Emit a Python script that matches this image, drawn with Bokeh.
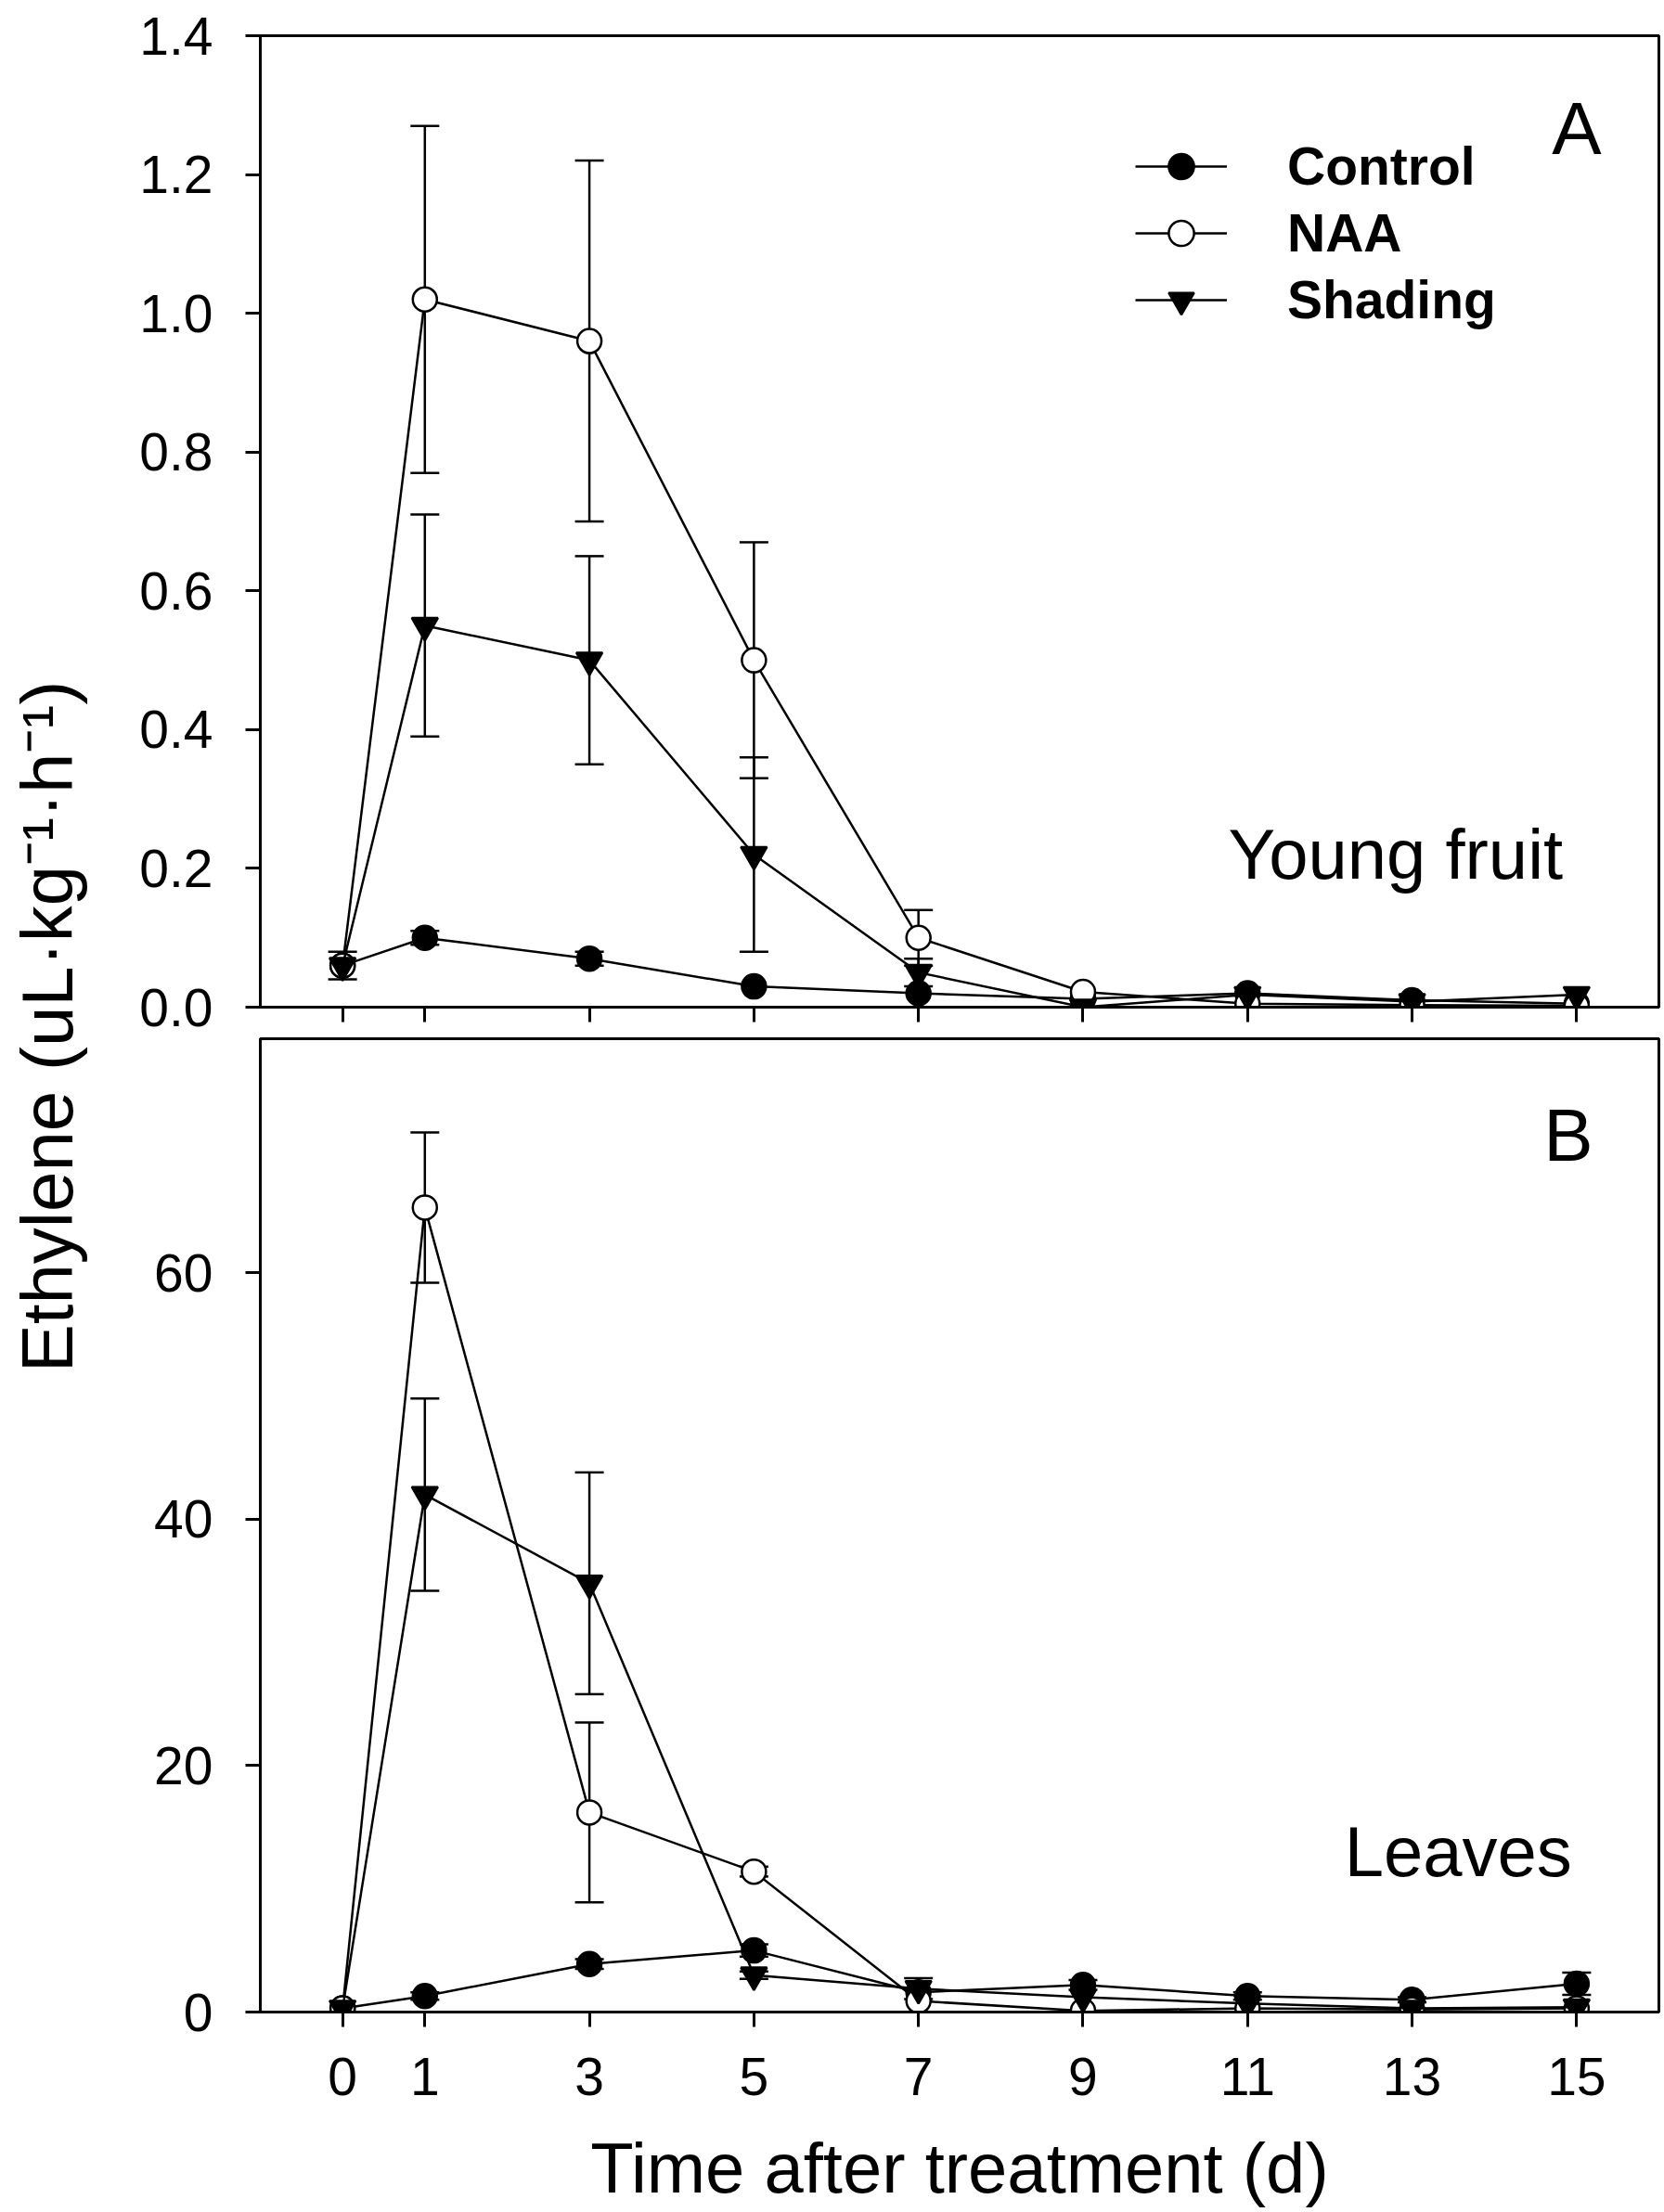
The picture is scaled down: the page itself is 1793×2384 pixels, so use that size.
from math import pi
from bokeh.plotting import figure
from bokeh.models import (Range1d, FixedTicker, ColumnDataSource, Whisker, TeeHead,
                          Label, Legend, LegendItem, CustomJSTickFormatter, PrintfTickFormatter)
from bokeh.layouts import row, column
from bokeh.embed import file_html
from bokeh.resources import INLINE

# ---------------- data ----------------
days = [0, 1, 3, 5, 7, 9, 11, 13, 15]
series_names = ["Control", "NAA", "Shading"]

fruit_control = [0.06, 0.10, 0.07, 0.03, 0.02, 0.012, 0.02, 0.01, 0.005]
fruit_control_err = [0.02, 0.01, 0.01, 0.0, 0.0, 0.0, 0.0, 0.0, 0.0]
fruit_naa = [0.06, 1.02, 0.96, 0.50, 0.10, 0.022, 0.005, 0.003, 0.002]
fruit_naa_err = [0.0, 0.25, 0.26, 0.17, 0.04, 0.0, 0.0, 0.0, 0.0]
fruit_shading = [0.06, 0.55, 0.50, 0.22, 0.05, 0.0, 0.018, 0.008, 0.018]
fruit_shading_err = [0.0, 0.16, 0.15, 0.14, 0.02, 0.0, 0.0, 0.0, 0.0]

leaf_control = [0.3, 1.3, 3.9, 5.0, 1.6, 2.2, 1.3, 1.0, 2.3]
leaf_control_err = [0.0, 0.3, 0.4, 0.5, 0.0, 0.4, 0.3, 0.2, 0.9]
leaf_naa = [0.3, 65.3, 16.2, 11.4, 0.9, 0.1, 0.3, 0.2, 0.3]
leaf_naa_err = [0.0, 6.1, 7.3, 0.4, 0.0, 0.0, 0.0, 0.0, 0.0]
leaf_shading = [0.3, 42.0, 34.8, 3.0, 1.9, 1.2, 0.7, 0.3, 0.4]
leaf_shading_err = [0.0, 7.8, 9.0, 0.3, 0.85, 0.0, 0.0, 0.0, 0.0]

fruit_y_ticks = [0.0, 0.2, 0.4, 0.6, 0.8, 1.0, 1.2, 1.4]
leaf_y_ticks = [0, 20, 40, 60]

x_label = "Time after treatment (d)"
y_label = "Ethylene (uL\u00b7kg\u207b\u00b9\u00b7h\u207b\u00b9)"

FONT = "Liberation Sans"
TICK_FS = "57px"
BIG_FS = "76px"
LETTER_FS = "80px"

styles = {
    "Control": dict(marker="circle", fill_color="black", size=26),
    "NAA": dict(marker="circle", fill_color="white", size=26),
    "Shading": dict(marker="inverted_triangle", fill_color="black", size=28),
}


def style_fig(p):
    p.xgrid.visible = False
    p.ygrid.visible = False
    p.outline_line_color = "black"
    p.outline_line_width = 3
    p.background_fill_color = "white"
    p.border_fill_color = "white"
    p.axis.axis_line_width = 3
    p.axis.axis_line_color = "black"
    p.axis.major_tick_line_width = 3
    p.axis.major_tick_line_color = "black"
    p.axis.major_tick_out = 16
    p.axis.major_tick_in = 0
    p.axis.minor_tick_line_color = None
    p.axis.major_label_text_font = FONT
    p.axis.major_label_text_font_size = TICK_FS
    p.axis.major_label_text_color = "black"
    p.xaxis.ticker = FixedTicker(ticks=days)
    p.yaxis.major_label_standoff = 35
    p.xaxis.major_label_standoff = 33


def draw_series(p, ys, errs, name):
    st = styles[name]
    src = ColumnDataSource(dict(x=days, y=ys))
    lr = p.line("x", "y", source=src, line_color="black", line_width=2.5)
    xs_e = [d for d, e in zip(days, errs) if e > 0]
    up = [v + e for v, e in zip(ys, errs) if e > 0]
    lo = [v - e for v, e in zip(ys, errs) if e > 0]
    if xs_e:
        esrc = ColumnDataSource(dict(x=xs_e, upper=up, lower=lo))
        w = Whisker(source=esrc, base="x", upper="upper", lower="lower",
                    line_color="black", line_width=2.5,
                    upper_head=TeeHead(size=31, line_width=2.5, line_color="black"),
                    lower_head=TeeHead(size=31, line_width=2.5, line_color="black"))
        p.add_layout(w)
    sr = p.scatter("x", "y", source=src, marker=st["marker"], size=st["size"],
                   fill_color=st["fill_color"], line_color="black", line_width=2.5)
    return lr, sr


LW = 95
PW = 1698
TOP_H = 1118
BOT_H = 1265

# ---------------- top panel (young fruit) ----------------
top = figure(width=PW, height=TOP_H, x_range=Range1d(-1, 16), y_range=Range1d(0, 1.4),
             toolbar_location=None, output_backend="svg",
             min_border_left=185, min_border_right=6, min_border_top=38, min_border_bottom=33)
style_fig(top)
top.yaxis.ticker = FixedTicker(ticks=fruit_y_ticks)
top.yaxis.formatter = PrintfTickFormatter(format="%.1f")
top.xaxis.formatter = CustomJSTickFormatter(code="return ''")
top.xaxis.major_label_text_font_size = "0px"
top.xaxis.major_label_standoff = 0

items = []
for name, ys, es in zip(series_names,
                        [fruit_control, fruit_naa, fruit_shading],
                        [fruit_control_err, fruit_naa_err, fruit_shading_err]):
    lr, sr = draw_series(top, ys, es, name)
    items.append(LegendItem(label=name, renderers=[lr, sr]))

legend = Legend(items=items, location=(943, 728), border_line_color=None,
                background_fill_alpha=0, padding=0, margin=0,
                glyph_width=99, glyph_height=68, label_height=68, spacing=4,
                label_standoff=65, label_text_font=FONT, label_text_font_size="57px",
                label_text_font_style="bold", label_text_color="black",
                label_text_baseline="middle")
top.add_layout(legend)

top.add_layout(Label(x=15.0, y=1.266, text="A", text_align="center", text_baseline="middle",
                     text_font=FONT, text_font_size=LETTER_FS, text_color="black"))
top.add_layout(Label(x=12.8, y=0.22, text="Young fruit", text_align="center",
                     text_baseline="middle", text_font=FONT, text_font_size=BIG_FS,
                     text_color="black"))

# ---------------- bottom panel (leaves) ----------------
bot = figure(width=PW, height=BOT_H, x_range=Range1d(-1, 16), y_range=Range1d(0, 79),
             toolbar_location=None, output_backend="svg",
             min_border_left=185, min_border_right=6, min_border_top=1, min_border_bottom=215)
style_fig(bot)
bot.yaxis.ticker = FixedTicker(ticks=leaf_y_ticks)
bot.xaxis.axis_label = x_label
bot.xaxis.axis_label_text_font = FONT
bot.xaxis.axis_label_text_font_size = BIG_FS
bot.xaxis.axis_label_text_font_style = "normal"
bot.xaxis.axis_label_text_color = "black"
bot.xaxis.axis_label_standoff = 33

for name, ys, es in zip(series_names,
                        [leaf_control, leaf_naa, leaf_shading],
                        [leaf_control_err, leaf_naa_err, leaf_shading_err]):
    draw_series(bot, ys, es, name)

bot.add_layout(Label(x=14.9, y=71.2, text="B", text_align="center", text_baseline="middle",
                     text_font=FONT, text_font_size=LETTER_FS, text_color="black"))
bot.add_layout(Label(x=13.56, y=13.0, text="Leaves", text_align="center",
                     text_baseline="middle", text_font=FONT, text_font_size=BIG_FS,
                     text_color="black"))

# ---------------- shared y label ----------------
H = TOP_H + BOT_H
lab = figure(width=LW, height=H, toolbar_location=None, output_backend="svg",
             x_axis_type=None, y_axis_type=None, min_border=0, outline_line_color=None,
             x_range=Range1d(0, 1), y_range=Range1d(0, 1))
lab.xgrid.visible = False
lab.ygrid.visible = False
lab.add_layout(Label(x=50, y=H - 1106, x_units="screen", y_units="screen", text=y_label,
                     angle=pi / 2, text_align="center", text_baseline="middle",
                     text_font=FONT, text_font_size="78px", text_color="black"))

layout = row(lab, column(top, bot))
open("out.html", "w").write(file_html(layout, INLINE))
